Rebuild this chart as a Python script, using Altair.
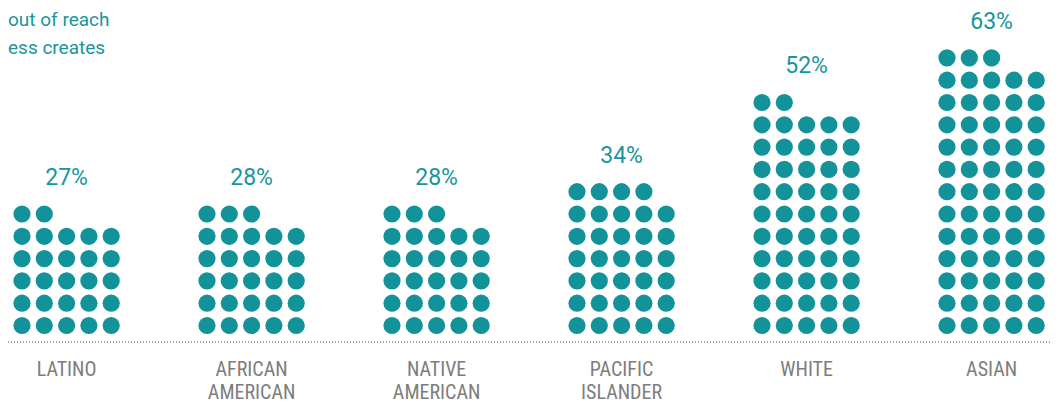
import altair as alt
import pandas as pd

# ---- data ----
groups = ["LATINO", "AFRICAN\nAMERICAN", "NATIVE\nAMERICAN", "PACIFIC\nISLANDER", "WHITE", "ASIAN"]
percents = [27, 28, 28, 34, 52, 63]
title_lines = ["out of reach", "ess creates"]

# ---- layout constants ----
PER_ROW = 5
SLOT = 22.3              # px per dot slot
GROUP_STEP = 185 / SLOT  # group spacing in slot units
W, H = 1043, 395
X0 = -14 / SLOT
X1 = X0 + W / SLOT
Y0 = -(H - 317.5) / SLOT
Y1 = Y0 + H / SLOT

TEAL = "#12939a"
TEXT_TEAL = "#1a959c"
GREY = "#7d7d7d"

dots = []
for g, (name, p) in enumerate(zip(groups, percents)):
    for i in range(p):
        dots.append({"group": name, "x": g * GROUP_STEP + i % PER_ROW, "row": i // PER_ROW})
dots = pd.DataFrame(dots)

labels = pd.DataFrame({
    "group": groups,
    "pct": percents,
    "x": [g * GROUP_STEP + 2 for g in range(len(groups))],
    "top": [(p - 1) // PER_ROW for p in percents],
})
labels["label"] = labels["pct"].astype(str) + "%"
labels["pct_y"] = labels["top"] + 1.62
labels["name_y"] = -2.27

xs = alt.Scale(domain=[X0, X1], nice=False, zero=False)
ys = alt.Scale(domain=[Y0, Y1], nice=False, zero=False)

points = alt.Chart(dots).mark_circle(size=295, opacity=1, color=TEAL).encode(
    x=alt.X("x:Q", scale=xs, axis=None),
    y=alt.Y("row:Q", scale=ys, axis=None),
)

pct_text = alt.Chart(labels).mark_text(
    font="Roboto", fontSize=23, color=TEXT_TEAL, baseline="middle", align="center"
).encode(
    x=alt.X("x:Q", scale=xs, axis=None),
    y=alt.Y("pct_y:Q", scale=ys, axis=None),
    text="label:N",
)

name_text = alt.Chart(labels).mark_text(
    font="Liberation Sans Narrow, Roboto Condensed, DejaVu Sans Condensed, Roboto",
    fontSize=20, color=GREY, baseline="alphabetic", align="center",
    lineBreak="\n", lineHeight=23,
).encode(
    x=alt.X("x:Q", scale=xs, axis=None),
    y=alt.Y("name_y:Q", scale=ys, axis=None),
    text="group:N",
)

baseline_rule = alt.Chart(labels).mark_rule(
    color="#9a9a9a", strokeWidth=1, strokeDash=[1, 2]
).encode(
    x=alt.value(0), x2=alt.value(W),
    y=alt.Y(datum=-0.753, scale=ys, axis=None),
)

title_df = pd.DataFrame({"t": title_lines, "left": [0, 0], "base": [18, 46]})
title_text = alt.Chart(title_df).mark_text(
    font="Roboto", fontSize=19, color=TEXT_TEAL, align="left", baseline="alphabetic"
).encode(
    x=alt.X("left:Q", scale=alt.Scale(domain=[0, W], nice=False, zero=False), axis=None),
    y=alt.Y("base:Q", scale=alt.Scale(domain=[H, 0], nice=False, zero=False), axis=None),
    text="t:N",
)

chart = alt.layer(baseline_rule, points, pct_text, name_text, title_text).resolve_scale(
    x="independent", y="independent"
).properties(
    width=W, height=H, autosize=alt.AutoSizeParams(type="none"), padding=0,
    background="white",
).configure_view(stroke=None)

chart.save("out.html", embed_options={"renderer": "svg", "actions": False})
